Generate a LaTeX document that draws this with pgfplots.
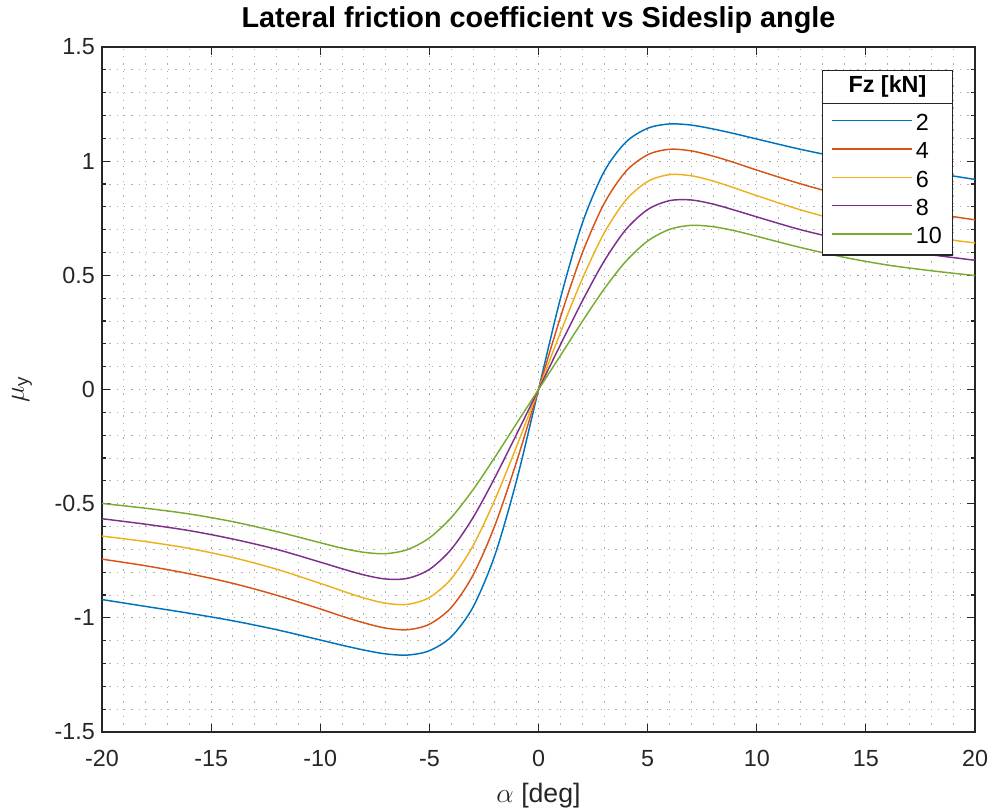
\documentclass[border=0pt]{standalone}
\usepackage{fontspec}
\setmainfont{Liberation Sans}
\usepackage{pgfplots}
\usepackage{pgfplotstable}
\pgfplotsset{compat=1.18}
\definecolor{mblue}{rgb}{0,0.447,0.741}
\definecolor{mred}{rgb}{0.850,0.325,0.098}
\definecolor{myellow}{rgb}{0.929,0.694,0.125}
\definecolor{mpurple}{rgb}{0.494,0.184,0.556}
\definecolor{mgreen}{rgb}{0.466,0.674,0.188}
\definecolor{axgray}{rgb}{0.15,0.15,0.15}

\pgfplotstableread{
x    f2     f4     f6     f8     f10
-20 -0.920 -0.743 -0.642 -0.566 -0.499
-18 -0.950 -0.772 -0.666 -0.590 -0.520
-16 -0.980 -0.807 -0.696 -0.618 -0.545
-14 -1.013 -0.849 -0.736 -0.655 -0.579
-12 -1.052 -0.901 -0.787 -0.700 -0.622
-10 -1.097 -0.961 -0.849 -0.756 -0.671
-9  -1.120 -0.993 -0.882 -0.785 -0.695
-8  -1.141 -1.022 -0.913 -0.812 -0.713
-7  -1.158 -1.045 -0.936 -0.830 -0.719
-6  -1.163 -1.052 -0.941 -0.827 -0.701
-5  -1.144 -1.028 -0.911 -0.788 -0.650
-4  -1.083 -0.955 -0.829 -0.700 -0.561
-3  -0.953 -0.813 -0.684 -0.561 -0.439
-2  -0.726 -0.596 -0.483 -0.386 -0.297
-1  -0.397 -0.315 -0.248 -0.195 -0.148
0    0.000  0.000  0.000  0.000  0.000
1    0.397  0.315  0.248  0.195  0.148
2    0.726  0.596  0.483  0.386  0.297
3    0.953  0.813  0.684  0.561  0.439
4    1.083  0.955  0.829  0.700  0.561
5    1.144  1.028  0.911  0.788  0.650
6    1.163  1.052  0.941  0.827  0.701
7    1.158  1.045  0.936  0.830  0.719
8    1.141  1.022  0.913  0.812  0.713
9    1.120  0.993  0.882  0.785  0.695
10   1.097  0.961  0.849  0.756  0.671
12   1.052  0.901  0.787  0.700  0.622
14   1.013  0.849  0.736  0.655  0.579
16   0.980  0.807  0.696  0.618  0.545
18   0.950  0.772  0.666  0.590  0.520
20   0.920  0.743  0.642  0.566  0.499
}\datatable

\begin{document}
\begin{tikzpicture}
\begin{axis}[
  width=654.75pt, height=513.75pt, scale only axis,
  xmin=-20, xmax=20, ymin=-1.5, ymax=1.5,
  xtick={-20,-15,-10,-5,0,5,10,15,20},
  xticklabels={-20,-15,-10,-5,0,5,10,15,20},
  ytick={-1.5,-1,-0.5,0,0.5,1,1.5},
  yticklabels={-1.5,-1,-0.5,0,0.5,1,1.5},
  minor x tick num=4, minor y tick num=4,
  grid=both,
  major grid style={draw=black!38, line width=0.7pt, dash pattern=on 0.9pt off 4.6pt},
  minor grid style={draw=black!32, line width=0.7pt, dash pattern=on 0.9pt off 4.6pt},
  tick align=inside,
  major tick length=6pt, minor tick length=3pt,
  tick style={draw=axgray, line width=0.8pt},
  minor x tick style={draw=none},
  axis line style={draw=axgray, line width=0.9pt},
  ticklabel style={font=\fontsize{17.5}{18}\selectfont, text=axgray},
  xticklabel style={anchor=base, inner sep=0pt, yshift=-25.9pt},
  yticklabel style={anchor=east, inner sep=0pt, xshift=-5.25pt},
  title={Lateral friction coefficient vs Sideslip angle},
  title style={font=\fontsize{21.6}{22}\selectfont\bfseries, text=black, at={(0.5,1)}, anchor=base, yshift=8.5pt},
  xlabel={$\alpha$ [deg]},
  xlabel style={font=\fontsize{20}{20}\selectfont, text=axgray, at={(0.5,0)}, anchor=base, yshift=-52.5pt},
  ylabel={$\mu$\textsubscript{y}},
  ylabel style={font=\fontsize{20}{20}\selectfont, text=axgray, at={(-0.0916,0.5)}, anchor=center},
  legend style={draw=none, fill=none, at={(axis cs:13.0,1.252)}, anchor=north west,
    xshift=6.5pt, yshift=-7.7pt, inner xsep=0pt, inner ysep=0pt,
    row sep=7.6pt, column sep=2.5pt, nodes={inner sep=0pt},
    font=\fontsize{17.5}{18}\selectfont, text=black},
  legend cell align=left,
  legend image code/.code={\draw[#1, line width=1.1pt] (0pt,2pt) -- (60pt,2pt);},
  every axis plot/.append style={line width=1.1pt, smooth, no markers},
]
\addplot[mblue]    table[x=x, y=f2]  {\datatable};
\addplot[mred]     table[x=x, y=f4]  {\datatable};
\addplot[myellow]  table[x=x, y=f6]  {\datatable};
\addplot[mpurple]  table[x=x, y=f8]  {\datatable};
\addplot[mgreen]   table[x=x, y=f10] {\datatable};
\legend{2,4,6,8,10}
\draw[axgray, line width=0.8pt, fill=white] (axis cs:13.0,0.589) rectangle (axis cs:18.96,1.398);
\draw[axgray, line width=0.8pt] (axis cs:13.0,1.252) -- (axis cs:18.96,1.252);
\node[font=\fontsize{17.5}{18}\selectfont\bfseries, text=black] at (axis cs:15.99,1.325) {Fz [kN]};
\end{axis}
\pgfresetboundingbox
\path[use as bounding box] ([shift={(-76.5pt,-59.25pt)}]current axis.south west) rectangle ([shift={(12.75pt,35.25pt)}]current axis.north east);
\end{tikzpicture}
\end{document}
